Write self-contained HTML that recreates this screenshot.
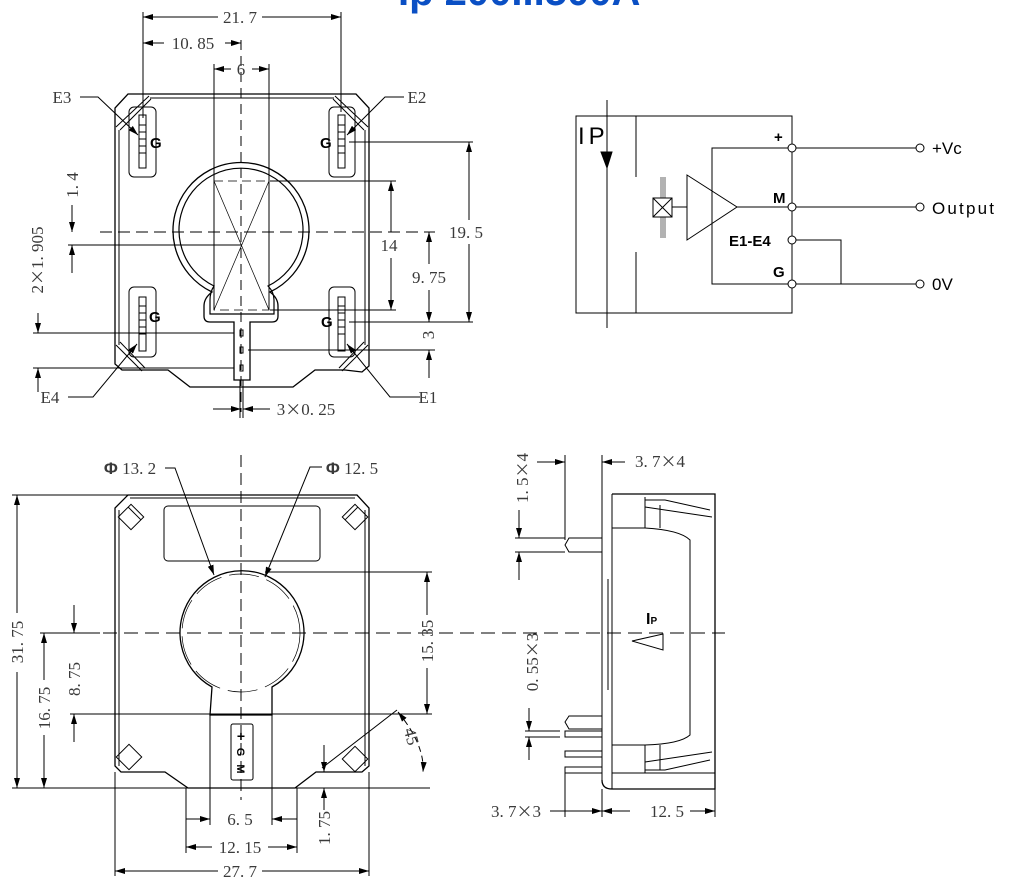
<!DOCTYPE html>
<html><head><meta charset="utf-8"><style>
html,body{margin:0;padding:0;background:#fff;}
svg{display:block;}
.d{font-family:"Liberation Serif","Noto Serif CJK SC",serif;font-size:17px;fill:#3a3a3a;}
.s{font-family:"Liberation Sans",sans-serif;}
.x{font-family:"Noto Sans CJK SC",sans-serif;font-size:16px;}
</style></head><body>
<svg width="1017" height="896" viewBox="0 0 1017 896" xmlns="http://www.w3.org/2000/svg">
<defs>
<marker id="a" viewBox="0 0 10 6" refX="10" refY="3" markerWidth="10" markerHeight="6" orient="auto-start-reverse" markerUnits="userSpaceOnUse"><path d="M0,0 L10,3 L0,6 Z" fill="#000"/></marker>
</defs>
<text x="398" y="5" fill="#0a4fc4" font-family="Liberation Sans,sans-serif" font-weight="bold" font-size="40">Ip 200...500A</text>

<g stroke="#000" fill="none" stroke-width="1">
<!-- TOP VIEW -->
<line x1="143" y1="12" x2="143" y2="118"/><line x1="341" y1="12" x2="341" y2="112"/>
<line x1="143" y1="17" x2="218" y2="17" marker-start="url(#a)"/><line x1="262" y1="17" x2="341" y2="17" marker-end="url(#a)"/>
<line x1="143" y1="43" x2="164" y2="43" marker-start="url(#a)"/><line x1="225" y1="43" x2="241" y2="43" marker-end="url(#a)"/>
<line x1="214" y1="64" x2="214" y2="310"/><line x1="269" y1="64" x2="269" y2="310"/>
<line x1="214" y1="69" x2="231" y2="69" marker-start="url(#a)"/><line x1="252" y1="69" x2="269" y2="69" marker-end="url(#a)"/>
<line x1="241" y1="40" x2="241" y2="412" stroke-dasharray="10,6"/>
<path d="M128,94 L356,94 L369,108 L369,366 L362,372 L345,370 L315,370 L293,387 L190,387 L168,370 L122,370 L115,364 L115,108 Z" stroke-width="1.3"/>
<line x1="150" y1="98" x2="334" y2="98"/>
<line x1="119" y1="130" x2="119" y2="345"/><line x1="365" y1="130" x2="365" y2="345"/>
<line x1="116" y1="127" x2="149" y2="96"/><line x1="120" y1="130" x2="151" y2="99"/>
<line x1="335" y1="96" x2="368" y2="127"/><line x1="333" y1="99" x2="364" y2="130"/>
<line x1="116" y1="345" x2="142" y2="371"/><line x1="120" y1="342" x2="145" y2="368"/>
<line x1="368" y1="345" x2="342" y2="371"/><line x1="364" y1="342" x2="339" y2="368"/>
<line x1="115" y1="232" x2="115" y2="248"/><line x1="369" y1="232" x2="369" y2="248"/>
<rect x="129" y="107" width="27" height="70" rx="5"/><rect x="139" y="115" width="7" height="53"/>
<rect x="329" y="107" width="26" height="70" rx="5"/><rect x="338" y="115" width="7" height="53"/>
<rect x="129" y="287" width="27" height="70" rx="5"/><rect x="139" y="297" width="7" height="54"/>
<rect x="329" y="287" width="26" height="70" rx="5"/><rect x="338" y="297" width="7" height="54"/>
<path d="M139,125h7M139,132h7M139,139h7M139,146h7M139,153h7M338,125h7M338,132h7M338,139h7M338,146h7M338,153h7M139,306h7M139,313h7M139,320h7M139,327h7M139,334h7M338,306h7M338,313h7M338,320h7M338,327h7M338,334h7"/>
<path d="M212,292 A68,68 0 1 1 270,292 Q278,298 278,306 L278,316 Q278,322 272,322 L250,322 L250,380 L234,380 L234,322 L210,322 Q204,322 204,316 L204,306 Q204,298 212,292 Z" stroke-width="1.3"/>
<path d="M214,286 A62,62 0 1 1 268,286 Q274,292 274,300 L274,314 L210,314 L210,300 Q210,292 214,286 Z" stroke-width="1.2"/>
<rect x="214" y="181" width="55" height="129" stroke-dasharray="9,5" stroke-width="0.8"/>
<line x1="214" y1="181" x2="269" y2="310" stroke-width="0.7"/><line x1="269" y1="181" x2="214" y2="310" stroke-width="0.7"/>
<rect x="240" y="330" width="3" height="6"/><rect x="240" y="347" width="3" height="6"/><rect x="240" y="365" width="3" height="6"/>
<line x1="100" y1="232" x2="435" y2="232" stroke-dasharray="12,6"/>
<line x1="270" y1="181" x2="396" y2="181"/><line x1="270" y1="310" x2="396" y2="310"/>
<line x1="391" y1="181" x2="391" y2="232" marker-start="url(#a)"/><line x1="391" y1="258" x2="391" y2="310" marker-end="url(#a)"/>
<line x1="349" y1="142" x2="473" y2="142"/><line x1="349" y1="322" x2="473" y2="322"/>
<line x1="469" y1="142" x2="469" y2="220" marker-start="url(#a)"/><line x1="469" y1="244" x2="469" y2="322" marker-end="url(#a)"/>
<line x1="429" y1="232" x2="429" y2="264" marker-start="url(#a)"/><line x1="429" y1="290" x2="429" y2="322" marker-end="url(#a)"/>
<line x1="248" y1="350" x2="435" y2="350"/>
<line x1="429" y1="378" x2="429" y2="350" marker-end="url(#a)"/>
<line x1="72" y1="205" x2="72" y2="232" marker-end="url(#a)"/>
<line x1="68" y1="245" x2="241" y2="245"/>
<line x1="72" y1="273" x2="72" y2="245" marker-end="url(#a)"/>
<line x1="38" y1="313" x2="38" y2="333" marker-end="url(#a)"/>
<line x1="33" y1="333" x2="234" y2="333"/><line x1="33" y1="368" x2="234" y2="368"/>
<line x1="38" y1="392" x2="38" y2="368" marker-end="url(#a)"/>
<polyline points="80,97 98,97 138,135" marker-end="url(#a)"/>
<polyline points="404,97 385,97 347,135" marker-end="url(#a)"/>
<polyline points="68,397 93,397 137,344" marker-end="url(#a)"/>
<polyline points="420,397 390,397 347,344" marker-end="url(#a)"/>
<line x1="213" y1="409" x2="241" y2="409" marker-end="url(#a)"/>
<line x1="270" y1="409" x2="243" y2="409" marker-end="url(#a)"/>
<line x1="240" y1="380" x2="240" y2="418"/><line x1="243" y1="380" x2="243" y2="418"/>

<!-- CIRCUIT -->
<rect x="576" y="116" width="216" height="197"/>
<line x1="607" y1="100" x2="607" y2="328"/>
<path d="M601,152 L612,152 L607,168 Z" fill="#000"/>
<line x1="636" y1="116" x2="636" y2="177"/><line x1="636" y1="252" x2="636" y2="313"/>
<rect x="653" y="198" width="19" height="19" fill="#fff"/><line x1="653" y1="198" x2="672" y2="217"/><line x1="672" y1="198" x2="653" y2="217"/>
<path d="M661,177v21M663,177v21M665,177v21M661,217v21M663,217v21M665,217v21" stroke-width="0.6"/>
<line x1="672" y1="207" x2="687" y2="207"/>
<path d="M687,175 L737,207 L687,240 Z"/>
<line x1="737" y1="207" x2="788" y2="207"/>
<polyline points="792,148 712,148 712,284 788,284"/>
<polyline points="796,240 841,240 841,284"/>
<line x1="796" y1="148" x2="916" y2="148"/><line x1="796" y1="207" x2="916" y2="207"/><line x1="796" y1="284" x2="916" y2="284"/>
<g fill="#fff"><circle cx="792" cy="148" r="4"/><circle cx="792" cy="207" r="4"/><circle cx="792" cy="240" r="4"/><circle cx="792" cy="284" r="4"/>
<circle cx="920" cy="148" r="4"/><circle cx="920" cy="207" r="4"/><circle cx="920" cy="284" r="4"/></g>

<!-- BOTTOM VIEW -->
<path d="M128,495 L357,495 L369,508 L369,766 L362,772 L316,772 L295,788 L188,788 L165,772 L121,772 L115,766 L115,508 Z" stroke-width="1.3"/>
<line x1="119" y1="510" x2="119" y2="766"/><line x1="365" y1="510" x2="365" y2="766"/>
<line x1="130" y1="498" x2="355" y2="498"/>
<line x1="115" y1="633" x2="115" y2="650"/><line x1="369" y1="633" x2="369" y2="650"/>
<rect x="164" y="506" width="156" height="55" rx="4"/>
<g transform="rotate(45 131 517)"><rect x="122" y="508" width="18" height="18"/><line x1="122" y1="512" x2="140" y2="512"/></g>
<g transform="rotate(-45 355 517)"><rect x="346" y="508" width="18" height="18"/><line x1="346" y1="512" x2="364" y2="512"/></g>
<g transform="rotate(45 129 757)"><rect x="120" y="748" width="18" height="18"/></g>
<g transform="rotate(-45 355 759)"><rect x="346" y="750" width="18" height="18"/></g>
<path d="M212,687 A62,62 0 1 1 272,687 L272,715 L210,715 Z" stroke-width="1.3"/>
<circle cx="241" cy="633" r="59" stroke-dasharray="30,8" stroke-width="0.7"/>
<rect x="231" y="724" width="22" height="56" rx="2"/>
<line x1="241" y1="455" x2="241" y2="800" stroke-dasharray="12,6"/>
<line x1="40" y1="633" x2="725" y2="633" stroke-dasharray="14,7"/>
<line x1="12" y1="495" x2="128" y2="495"/><line x1="12" y1="788" x2="430" y2="788"/>
<line x1="17" y1="495" x2="17" y2="613" marker-start="url(#a)"/><line x1="17" y1="672" x2="17" y2="788" marker-end="url(#a)"/>
<line x1="40" y1="633" x2="100" y2="633"/>
<line x1="44" y1="633" x2="44" y2="680" marker-start="url(#a)"/><line x1="44" y1="735" x2="44" y2="788" marker-end="url(#a)"/>
<line x1="74" y1="605" x2="74" y2="633" marker-end="url(#a)"/>
<line x1="70" y1="714" x2="432" y2="714"/>
<line x1="74" y1="742" x2="74" y2="714" marker-end="url(#a)"/>
<line x1="265" y1="572" x2="432" y2="572"/>
<line x1="427" y1="572" x2="427" y2="615" marker-start="url(#a)"/><line x1="427" y1="668" x2="427" y2="714" marker-end="url(#a)"/>
<line x1="210" y1="715" x2="210" y2="825"/><line x1="272" y1="715" x2="272" y2="825"/>
<line x1="186" y1="788" x2="186" y2="853"/><line x1="297" y1="788" x2="297" y2="853"/>
<line x1="186" y1="819" x2="210" y2="819" marker-end="url(#a)"/><line x1="297" y1="819" x2="272" y2="819" marker-end="url(#a)"/>
<line x1="186" y1="847" x2="212" y2="847" marker-start="url(#a)"/><line x1="268" y1="847" x2="297" y2="847" marker-end="url(#a)"/>
<line x1="115" y1="772" x2="115" y2="876"/><line x1="369" y1="772" x2="369" y2="876"/>
<line x1="115" y1="871" x2="218" y2="871" marker-start="url(#a)"/><line x1="262" y1="871" x2="369" y2="871" marker-end="url(#a)"/>
<line x1="324" y1="745" x2="324" y2="772" marker-end="url(#a)"/>
<line x1="324" y1="810" x2="324" y2="788" marker-end="url(#a)"/>
<line x1="320" y1="772" x2="345" y2="772"/>
<line x1="322" y1="768" x2="397" y2="710"/>
<path d="M398,712 Q425,745 423,772" stroke-dasharray="6,4" marker-start="url(#a)" marker-end="url(#a)"/>
<polyline points="165,468 175,468 214,575" marker-end="url(#a)"/>
<polyline points="322,467 310,467 265,577" marker-end="url(#a)"/>

<!-- SIDE VIEW -->
<path d="M612,494 L715,494 L715,789 L612,789 Q602,789 602,780" stroke-width="1.3"/>
<line x1="602" y1="500" x2="602" y2="780"/>
<line x1="612" y1="494" x2="612" y2="789"/>
<line x1="612" y1="528" x2="645" y2="528"/><line x1="645" y1="497" x2="645" y2="528"/>
<line x1="612" y1="745" x2="645" y2="745"/><line x1="645" y1="745" x2="645" y2="773"/>
<path d="M612,528 L645,528 Q680,530 690,540 L690,735 Q680,744 645,745 L612,745"/>
<path d="M645,500 L665,500 L710,510 M660,505 L660,528 M645,507 L712,517"/>
<path d="M645,770 L665,770 L710,760 M660,745 L660,770 M645,762 L712,752"/>
<line x1="612" y1="773" x2="715" y2="773"/>
<line x1="608" y1="579" x2="608" y2="690"/>
<path d="M602,538 L569,538 L565,545 L569,552 L602,552"/>
<path d="M602,716 L569,716 L565,722 L569,729 L602,729"/>
<rect x="565" y="731" width="37" height="6"/><rect x="565" y="751" width="37" height="6"/><rect x="565" y="767" width="37" height="6"/>
<path d="M632,641 L663,634 L663,650 Z"/>
<line x1="537" y1="462" x2="565" y2="462" marker-end="url(#a)"/>
<line x1="565" y1="455" x2="565" y2="540"/>
<line x1="602" y1="455" x2="602" y2="500"/>
<line x1="602" y1="462" x2="625" y2="462" marker-start="url(#a)"/>
<line x1="515" y1="538" x2="565" y2="538"/><line x1="515" y1="552" x2="565" y2="552"/>
<line x1="519" y1="510" x2="519" y2="538" marker-end="url(#a)"/>
<line x1="519" y1="580" x2="519" y2="552" marker-end="url(#a)"/>
<line x1="529" y1="708" x2="529" y2="731" marker-end="url(#a)"/>
<line x1="529" y1="760" x2="529" y2="737" marker-end="url(#a)"/>
<line x1="525" y1="731" x2="560" y2="731"/><line x1="525" y1="737" x2="560" y2="737"/>
<line x1="565" y1="773" x2="565" y2="817"/><line x1="602" y1="789" x2="602" y2="817"/><line x1="715" y1="789" x2="715" y2="817"/>
<line x1="550" y1="811" x2="580" y2="811"/>
<line x1="580" y1="811" x2="602" y2="811" marker-end="url(#a)"/>
<line x1="602" y1="811" x2="630" y2="811" marker-start="url(#a)"/>
<line x1="702" y1="811" x2="715" y2="811" marker-end="url(#a)"/><line x1="690" y1="811" x2="702" y2="811"/>
</g>

<g class="d">
<text x="240" y="23" text-anchor="middle">21. 7</text>
<text x="193" y="49" text-anchor="middle">10. 85</text>
<text x="241" y="75" text-anchor="middle">6</text>
<text x="62" y="103" text-anchor="middle">E3</text>
<text x="417" y="103" text-anchor="middle">E2</text>
<text x="50" y="403" text-anchor="middle">E4</text>
<text x="428" y="403" text-anchor="middle">E1</text>
<text x="389" y="251" text-anchor="middle">14</text>
<text x="429" y="283" text-anchor="middle">9. 75</text>
<text x="466" y="238" text-anchor="middle">19. 5</text>
<text x="306" y="415" text-anchor="middle">3<tspan class="x">×</tspan>0. 25</text>
<text transform="translate(434,335) rotate(-90)" text-anchor="middle">3</text>
<text transform="translate(78,185) rotate(-90)" text-anchor="middle">1. 4</text>
<text transform="translate(43,260) rotate(-90)" text-anchor="middle">2<tspan class="x">×</tspan>1. 905</text>
<text x="130" y="474" text-anchor="middle"><tspan font-family="Liberation Sans,sans-serif" font-weight="bold">Φ</tspan> 13. 2</text>
<text x="352" y="474" text-anchor="middle"><tspan font-family="Liberation Sans,sans-serif" font-weight="bold">Φ</tspan> 12. 5</text>
<text transform="translate(23,642) rotate(-90)" text-anchor="middle">31. 75</text>
<text transform="translate(50,708) rotate(-90)" text-anchor="middle">16. 75</text>
<text transform="translate(80,679) rotate(-90)" text-anchor="middle">8. 75</text>
<text transform="translate(433,641) rotate(-90)" text-anchor="middle">15. 35</text>
<text transform="translate(330,828) rotate(-90)" text-anchor="middle">1. 75</text>
<text transform="translate(406,738) rotate(75)" text-anchor="middle">45</text>
<text x="240" y="825" text-anchor="middle">6. 5</text>
<text x="240" y="853" text-anchor="middle">12. 15</text>
<text x="240" y="877" text-anchor="middle">27. 7</text>
<text transform="translate(528,478) rotate(-90)" text-anchor="middle">1. 5<tspan class="x">×</tspan>4</text>
<text x="660" y="467" text-anchor="middle">3. 7<tspan class="x">×</tspan>4</text>
<text transform="translate(538,662) rotate(-90)" text-anchor="middle">0. 55<tspan class="x">×</tspan>3</text>
<text x="516" y="817" text-anchor="middle">3. 7<tspan class="x">×</tspan>3</text>
<text x="667" y="817" text-anchor="middle">12. 5</text>
</g>
<g class="s" font-weight="bold" font-size="15" fill="#000">
<text x="150" y="148">G</text><text x="320" y="148">G</text>
<text x="149" y="322">G</text><text x="321" y="327">G</text>
</g>
<g class="s" fill="#000">
<text x="646" y="624" font-size="16" font-weight="bold">I<tspan font-size="10">P</tspan></text>
<text x="241" y="741" font-size="14" font-weight="bold" text-anchor="middle">+</text>
<text transform="translate(237,752) rotate(90)" font-size="11" font-weight="bold" text-anchor="middle">G</text>
<text transform="translate(237,769) rotate(90)" font-size="11" font-weight="bold" text-anchor="middle">M</text>
<text x="578" y="144" font-size="24" letter-spacing="4">IP</text>
<text x="774" y="142" font-size="15" font-weight="bold">+</text>
<text x="773" y="203" font-size="15" font-weight="bold">M</text>
<text x="729" y="246" font-size="15" font-weight="bold">E1-E4</text>
<text x="773" y="277" font-size="15" font-weight="bold">G</text>
<text x="932" y="154" font-size="17">+Vc</text>
<text x="932" y="214" font-size="17" textLength="62">Output</text>
<text x="932" y="290" font-size="17">0V</text>
</g>
</svg>
</body></html>
